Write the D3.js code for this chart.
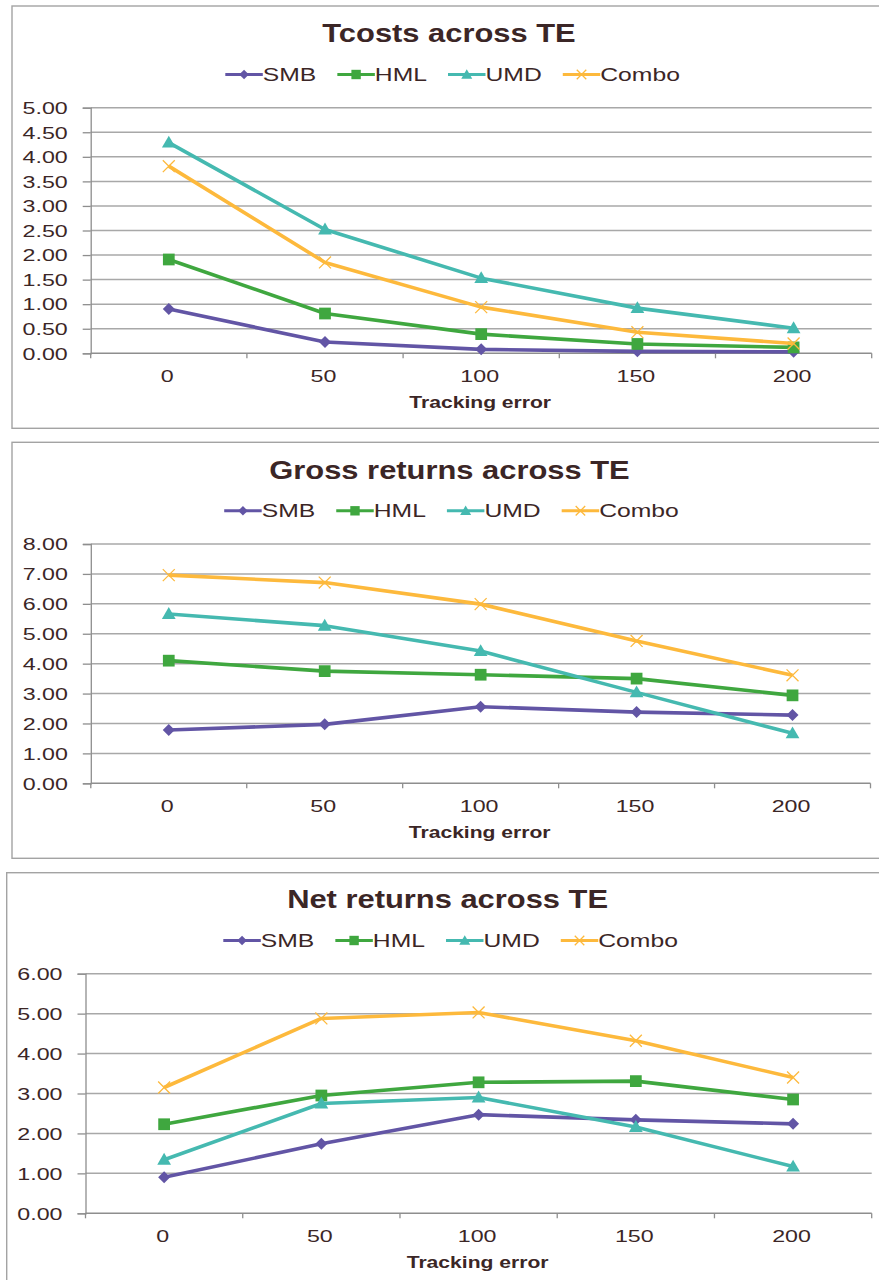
<!DOCTYPE html>
<html>
<head>
<meta charset="utf-8">
<script src="https://cdn.jsdelivr.net/npm/d3@7"></script>
<style>
  body { margin: 0; background: #fff; }
  svg { display: block; }
</style>
</head>
<body>
<svg id="chart" width="879" height="1280"></svg>
<script>
// ---- data ----
const trackingError = ["0", "50", "100", "150", "200"];
const seriesNames = ["SMB", "HML", "UMD", "Combo"];

const tcostsSMB   = [0.90, 0.23, 0.08, 0.04, 0.03];
const tcostsHML   = [1.91, 0.81, 0.39, 0.19, 0.12];
const tcostsUMD   = [4.29, 2.52, 1.53, 0.92, 0.51];
const tcostsCombo = [3.81, 1.85, 0.94, 0.43, 0.20];

const grossSMB   = [1.78, 1.97, 2.56, 2.38, 2.28];
const grossHML   = [4.10, 3.75, 3.63, 3.50, 2.94];
const grossUMD   = [5.66, 5.27, 4.42, 3.04, 1.67];
const grossCombo = [6.96, 6.71, 5.99, 4.76, 3.61];

const netSMB   = [0.90, 1.74, 2.47, 2.34, 2.24];
const netHML   = [2.23, 2.95, 3.28, 3.31, 2.85];
const netUMD   = [1.34, 2.75, 2.90, 2.16, 1.17];
const netCombo = [3.15, 4.88, 5.03, 4.32, 3.40];

const tcostsTicks = [0, 0.5, 1, 1.5, 2, 2.5, 3, 3.5, 4, 4.5, 5];
const grossTicks  = [0, 1, 2, 3, 4, 5, 6, 7, 8];
const netTicks    = [0, 1, 2, 3, 4, 5, 6];

const titles = ["Tcosts across TE", "Gross returns across TE", "Net returns across TE"];
const xAxisTitle = "Tracking error";

// ---- styling ----
const colors = { SMB: "#6255a5", HML: "#3fa73f", UMD: "#45b9b0", Combo: "#fdb93c" };
const textColor = "#3b2626";
const gridColor = "#a8a8a8";
const axisColor = "#8e8e8e";
const fontFamily = "'Liberation Sans', Arial, sans-serif";

const panels = [
  { title: titles[0], series: [tcostsSMB, tcostsHML, tcostsUMD, tcostsCombo], ticks: tcostsTicks,
    frame: { x: 12, y: 6, h: 422.3 }, plot: { l: 90.7, r: 871.7, t: 107.7, b: 353.3 },
    titleY: 41.7, titleX: 449, legendY: 81, legendX: 452.6 },
  { title: titles[1], series: [grossSMB, grossHML, grossUMD, grossCombo], ticks: grossTicks,
    frame: { x: 12, y: 442.3, h: 416 }, plot: { l: 90.8, r: 870.5, t: 544, b: 783.3 },
    titleY: 479, titleX: 449.5, legendY: 517.3, legendX: 451.5 },
  { title: titles[2], series: [netSMB, netHML, netUMD, netCombo], ticks: netTicks,
    frame: { x: 6.7, y: 872.7, h: 430 }, plot: { l: 85.5, r: 871.7, t: 973.7, b: 1213.3 },
    titleY: 907.7, titleX: 447.6, legendY: 947, legendX: 450.6 }
];

const svg = d3.select("#chart");

// widen text to the proportions used in the chart's typeface
function stretch(sel, k) {
  sel.each(function () {
    const w = this.getComputedTextLength();
    this.setAttribute("textLength", w * k);
    this.setAttribute("lengthAdjust", "spacingAndGlyphs");
  });
  return sel;
}

// marker drawing for each series
function drawMarker(g, name, cx, cy, scale) {
  const c = colors[name];
  if (name === "SMB") {
    g.append("path").attr("d", d3.symbol(d3.symbolSquare, 72 * scale * scale)())
      .attr("transform", `translate(${cx},${cy}) rotate(45)`).attr("fill", c);
  } else if (name === "HML") {
    g.append("path").attr("d", d3.symbol(d3.symbolSquare, 138 * scale * scale)())
      .attr("transform", `translate(${cx},${cy})`).attr("fill", c);
  } else if (name === "UMD") {
    g.append("path").attr("d", d3.symbol(d3.symbolTriangle, 82 * scale * scale)())
      .attr("transform", `translate(${cx},${cy + 1})`).attr("fill", c);
  } else {
    const sym = d3.symbolTimes || d3.symbolX;
    g.append("path").attr("d", d3.symbol(sym, 95 * scale * scale)())
      .attr("transform", `translate(${cx},${cy})`)
      .attr("fill", "none").attr("stroke", c).attr("stroke-width", 1.3);
  }
}

panels.forEach(p => {
  const g = svg.append("g");

  // frame
  g.append("rect")
    .attr("x", p.frame.x).attr("y", p.frame.y)
    .attr("width", 900).attr("height", p.frame.h)
    .attr("fill", "#fff").attr("stroke", "#a3a3a3").attr("stroke-width", 1.4);

  const x = d3.scaleBand().domain(trackingError).range([p.plot.l, p.plot.r]).padding(0);
  const y = d3.scaleLinear().domain([0, d3.max(p.ticks)]).range([p.plot.b, p.plot.t]);
  const bw = x.bandwidth();

  // horizontal gridlines
  g.append("g").selectAll("line").data(p.ticks.filter(d => d > 0)).join("line")
    .attr("x1", p.plot.l).attr("x2", p.plot.r)
    .attr("y1", d => y(d)).attr("y2", d => y(d))
    .attr("stroke", gridColor).attr("stroke-width", 1.5);

  // y axis
  const yAxis = g.append("g").attr("transform", `translate(${p.plot.l},0)`)
    .call(d3.axisLeft(y).tickValues(p.ticks).tickFormat(d3.format(".2f")).tickSize(8).tickPadding(15));
  yAxis.select(".domain").attr("stroke", axisColor).attr("stroke-width", 1.3);
  yAxis.selectAll(".tick line").attr("stroke", axisColor).attr("stroke-width", 1.3);
  yAxis.selectAll(".tick text")
    .attr("fill", textColor).attr("font-family", fontFamily).attr("font-size", 16)
    .attr("dy", "0.36em");
  stretch(yAxis.selectAll(".tick text"), 1.45);

  // x axis: baseline, boundary ticks and centred category labels
  g.append("line")
    .attr("x1", p.plot.l).attr("x2", p.plot.r)
    .attr("y1", p.plot.b).attr("y2", p.plot.b)
    .attr("stroke", axisColor).attr("stroke-width", 1.5);
  const bounds = trackingError.map(d => x(d)).concat([p.plot.r]);
  g.append("g").selectAll("line").data(bounds).join("line")
    .attr("x1", d => d).attr("x2", d => d)
    .attr("y1", p.plot.b).attr("y2", p.plot.b + 5)
    .attr("stroke", axisColor).attr("stroke-width", 1.3);
  const xLabels = g.append("g").selectAll("text").data(trackingError).join("text")
    .attr("x", d => x(d) + bw / 2 - 1.5).attr("y", p.plot.b + 29)
    .attr("text-anchor", "middle")
    .attr("fill", textColor).attr("font-family", fontFamily).attr("font-size", 16)
    .text(d => d);
  stretch(xLabels, 1.45);

  // x axis title
  const xt = g.append("text")
    .attr("x", (p.plot.l + p.plot.r) / 2 - 1).attr("y", p.plot.b + 55)
    .attr("text-anchor", "middle")
    .attr("fill", textColor).attr("font-family", fontFamily)
    .attr("font-size", 17).attr("font-weight", "bold")
    .text(xAxisTitle);
  stretch(xt, 1.24);

  // chart title
  const tt = g.append("text")
    .attr("x", p.titleX).attr("y", p.titleY)
    .attr("text-anchor", "middle")
    .attr("fill", textColor).attr("font-family", fontFamily)
    .attr("font-size", 25).attr("font-weight", "bold")
    .text(p.title);
  stretch(tt, 1.235);

  // series lines and markers
  const line = d3.line()
    .x((d, i) => x(trackingError[i]) + bw / 2)
    .y(d => y(d));
  seriesNames.forEach((name, si) => {
    const vals = p.series[si];
    const sg = g.append("g");
    sg.append("path").datum(vals)
      .attr("d", line)
      .attr("fill", "none").attr("stroke", colors[name])
      .attr("stroke-width", 3.6).attr("stroke-linejoin", "round");
    vals.forEach((v, i) => drawMarker(sg, name, x(trackingError[i]) + bw / 2, y(v), 1));
  });

  // legend: line sample, marker, label, laid out and centred
  const lineLen = 37.5, gap = 21;
  const lg = g.append("g");
  const items = [];
  let cursor = 0;
  seriesNames.forEach(name => {
    const it = lg.append("g");
    const label = it.append("text")
      .attr("y", p.legendY)
      .attr("fill", textColor).attr("font-family", fontFamily).attr("font-size", 19)
      .text(name);
    stretch(label, 1.3);
    const tw = +label.attr("textLength");
    items.push({ it, label, name, start: cursor, tw });
    cursor += lineLen + tw + gap;
  });
  const total = cursor - gap;
  const x0 = p.legendX - total / 2;
  items.forEach(d => {
    const sx = x0 + d.start;
    const ly = p.legendY - 6.5;
    d.it.insert("line", "text")
      .attr("x1", sx).attr("x2", sx + lineLen)
      .attr("y1", ly).attr("y2", ly)
      .attr("stroke", colors[d.name]).attr("stroke-width", 3);
    drawMarker(d.it, d.name, sx + lineLen / 2, ly, 0.8);
    d.label.attr("x", sx + lineLen);
  });
});
</script>
</body>
</html>
